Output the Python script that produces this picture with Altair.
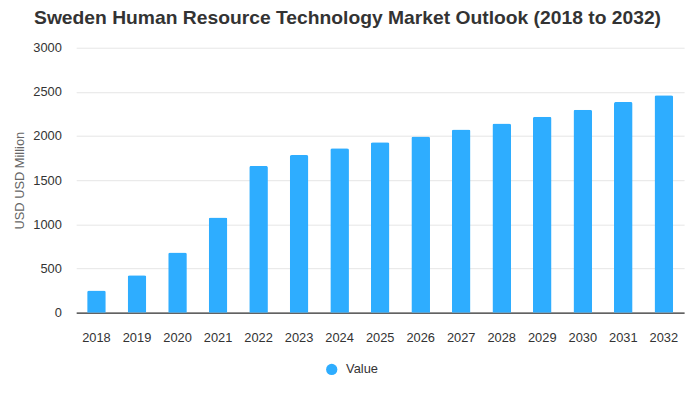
import altair as alt
import pandas as pd

years = ["2018", "2019", "2020", "2021", "2022", "2023", "2024", "2025",
         "2026", "2027", "2028", "2029", "2030", "2031", "2032"]
values = [250, 424, 680, 1078, 1662, 1784, 1862, 1929, 1996, 2073,
          2141, 2219, 2297, 2386, 2461]
series = ["Value"] * len(years)

df = pd.DataFrame({"year": years, "value": values, "series": series})

FONT = "Liberation Sans"

chart = alt.Chart(df).mark_bar(
    cornerRadiusTopLeft=2, cornerRadiusTopRight=2
).encode(
    x=alt.X("year:N", sort=years, title=None,
            scale=alt.Scale(paddingInner=0.54, paddingOuter=0.27),
            axis=alt.Axis(labelAngle=0, ticks=False, domainColor="#333333",
                          domainWidth=1.5, labelPadding=19, labelFontSize=13,
                          labelColor="#333333", labelFont=FONT, grid=False)),
    y=alt.Y("value:Q", title="USD USD Million",
            scale=alt.Scale(domain=[0, 3000], nice=False),
            axis=alt.Axis(values=[0, 500, 1000, 1500, 2000, 2500, 3000],
                          format="d",
                          ticks=False, domain=False, labelPadding=15,
                          labelFontSize=13, labelColor="#333333", labelFont=FONT,
                          titleFont=FONT, titleFontSize=13, titleFontWeight="normal",
                          titleColor="#666666", titlePadding=6,
                          gridColor="#e6e6e6")),
    color=alt.Color("series:N", title=None,
                    scale=alt.Scale(domain=["Value"], range=["#2eadff"]),
                    legend=alt.Legend(orient="none", legendX=252, legendY=319,
                                      symbolType="circle", symbolSize=130,
                                      labelFont=FONT, labelFontSize=13,
                                      labelOffset=8,
                                      labelColor="#333333", symbolStrokeWidth=0)),
).properties(
    width=615, height=268,
    autosize="none",
    padding={"left": 69, "top": 38, "right": 8, "bottom": 70},
    title=alt.TitleParams(
        "Sweden Human Resource Technology Market Outlook (2018 to 2032)",
        font=FONT, fontSize=19.5, fontWeight="bold", color="#333333",
        anchor="middle", dx=-33, offset=14),
).configure_view(stroke=None)

chart.save("out.html", embed_options={"renderer": "svg", "actions": False})
